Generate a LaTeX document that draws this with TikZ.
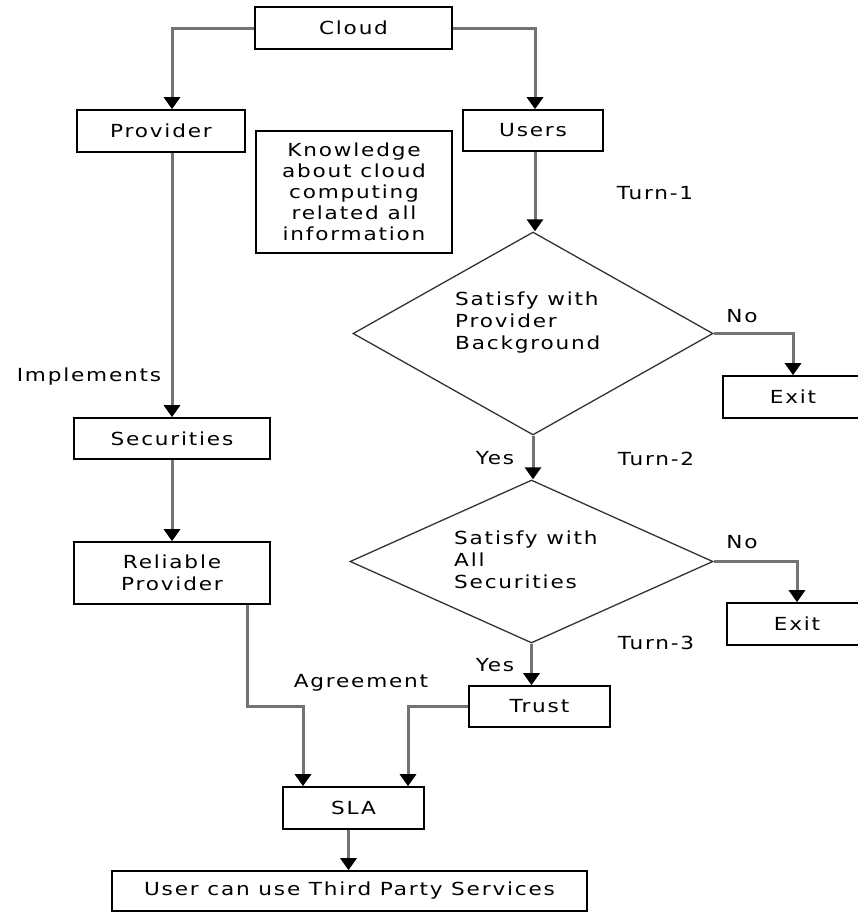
\documentclass[tikz,border=0pt]{standalone}
\usepackage{fontspec}
\setmainfont{DejaVu Sans}[LetterSpace=10,FakeStretch=1.2]
\usetikzlibrary{shapes.geometric,arrows.meta}
\newcommand\dfont{\fontsize{18}{22}\selectfont}
\newcommand\kfont{\fontsize{18}{21}\selectfont}
\begin{document}
\begin{tikzpicture}[x=1pt,y=-1pt,
  box/.style={draw=black, line width=1.6pt, rectangle, inner sep=0pt, align=center, font=\dfont},
  dia/.style={draw=black!80, line width=1.3pt, diamond, inner sep=0pt},
  lbl/.style={inner sep=0pt, font=\dfont},
  conn/.style={draw=black!55, line width=3pt, -{Triangle[width=16pt,length=12pt,color=black]}}]
\useasboundingbox (0,0) rectangle (857,913);
% boxes
\node[box, minimum width=197pt, minimum height=42pt] (cloud) at (353.5,28) {Cloud};
\node[box, minimum width=168pt, minimum height=42pt] (provider) at (161,131) {Provider};
\node[box, minimum width=196pt, minimum height=122pt, font=\kfont] (know) at (354,192) {Knowledge\\about cloud\\computing\\related all\\information};
\node[box, minimum width=140pt, minimum height=41pt] (users) at (533,130.5) {Users};
\node[dia, minimum width=360pt, minimum height=203pt] (d1) at (533,333.5) {};
\node[lbl, anchor=west, align=left] (d1t) at (455,323) {Satisfy with\\Provider\\Background};
\node[box, minimum width=140pt, minimum height=42pt] (exit1) at (793,397) {Exit};
\node[box, minimum width=196pt, minimum height=41pt] (sec) at (172,438.5) {Securities};
\node[box, minimum width=196pt, minimum height=62pt] (rel) at (172,573) {Reliable\\Provider};
\node[dia, minimum width=363pt, minimum height=163pt] (d2) at (531.5,561.5) {};
\node[lbl, anchor=west, align=left] (d2t) at (454,560) {Satisfy with\\All\\Securities};
\node[box, minimum width=140pt, minimum height=42pt] (exit2) at (797,624) {Exit};
\node[box, minimum width=141pt, minimum height=41pt] (trust) at (539.5,706.5) {Trust};
\node[box, minimum width=141pt, minimum height=42pt] (sla) at (353.5,808) {SLA};
\node[box, minimum width=475pt, minimum height=40pt] (ucu) at (349.5,891) {User can use Third Party Services};
% labels
\node[lbl] (impl) at (89,377) {Implements};
\node[lbl] (t1) at (655,193) {Turn-1};
\node[lbl] (no1) at (742,316) {No};
\node[lbl] (yes1) at (495,458) {Yes};
\node[lbl] (t2) at (656,459) {Turn-2};
\node[lbl] (no2) at (742,542) {No};
\node[lbl] (t3) at (656,643) {Turn-3};
\node[lbl] (yes2) at (495,665) {Yes};
\node[lbl] (agr) at (361,683) {Agreement};
% connectors
\coordinate (slaL) at ([xshift=-50.5pt]sla.north);
\coordinate (slaR) at ([xshift=54.5pt]sla.north);
\coordinate (ucuT) at ([xshift=-5pt]sla.south);
\draw[conn] (cloud.west) -| ([xshift=11pt]provider.north);
\draw[conn] (cloud.east) -| ([xshift=2pt]users.north);
\draw[conn] ([xshift=2pt]users.south) -- ([xshift=2pt]users.south |- d1.north);
\draw[conn] ([xshift=11pt]provider.south) -- (sec.north);
\draw[conn] (sec.south) -- (rel.north);
\draw[conn] (d1.east) -| (exit1.north);
\draw[conn] (d1.south) -- (d1.south |- d2.north);
\draw[conn] (d2.east) -| (exit2.north);
\draw[conn] (d2.south) -- (d2.south |- trust.north);
\draw[conn] ([xshift=75pt]rel.south) |- (slaL |- trust.west) -- (slaL);
\draw[conn] (trust.west) -| (slaR);
\draw[conn] (ucuT) -- (ucuT |- ucu.north);
\end{tikzpicture}
\end{document}
